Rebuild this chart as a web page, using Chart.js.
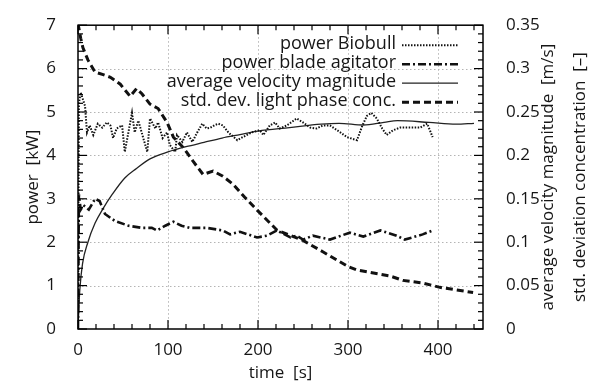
<!DOCTYPE html>
<html><head><meta charset="utf-8">
<script src="https://cdn.jsdelivr.net/npm/chart.js@4.4.1/dist/chart.umd.min.js"></script>
<style>html,body{margin:0;padding:0;background:#fff;}canvas{display:block;}</style>
</head><body>
<canvas id="c" width="589" height="388"></canvas>
<script>
// ---- tick values ----
const xTickValues = [0, 100, 200, 300, 400];
const yLeftTickValues = [0, 1, 2, 3, 4, 5, 6, 7];
const yRightTickValues = [0, 0.05, 0.1, 0.15, 0.2, 0.25, 0.3, 0.35];

// ---- labels ----
const seriesLabels = ["power Biobull", "power blade agitator", "average velocity magnitude", "std. dev. light phase conc."];
const xTitle = "time  [s]";
const yLeftTitle = "power  [kW]";
const yRightTitles = ["average velocity magnitude  [m/s]", "std. deviation concentration  [\u2013]"];

// ---- series: power Biobull [kW] ----
const biobullTime = [0,1,3,4.4,7.8,10,13,17,22,27,32,36,39,43,49,52,56,60,63,67,71,77,80,86,89,94,99,102,108,110,116,121,127,132,138,143,147,152,156,161,167,177,183,193,202,206,213,219,224,232,243,250,258,265,272,280,288,299,310,316,321,326,332,338,343,350,358,369,380,388,391,394];
const biobullPower = [0,5.2,5.45,5.36,5.14,4.53,4.69,4.47,4.73,4.64,4.76,4.69,4.40,4.62,4.69,4.08,4.53,4.98,4.53,4.80,4.51,4.08,4.85,4.62,4.76,4.40,4.53,4.24,4.08,4.47,4.31,4.53,4.31,4.51,4.73,4.62,4.64,4.70,4.73,4.69,4.53,4.35,4.42,4.53,4.58,4.47,4.69,4.76,4.62,4.69,4.85,4.76,4.64,4.62,4.69,4.69,4.58,4.42,4.35,4.69,4.91,4.98,4.85,4.62,4.47,4.58,4.64,4.64,4.64,4.73,4.58,4.42];

// ---- series: power blade agitator [kW] ----
const agitatorTime = [0,1,3,6,12,19,24,30,41,56,71,82,88,97,106,115,124,143,161,169,180,199,210,221,236,243,250,261,280,302,317,336,354,363,383,394];
const agitatorPower = [0,3.1,2.75,2.85,2.75,3.0,2.95,2.65,2.49,2.38,2.33,2.33,2.27,2.38,2.47,2.38,2.33,2.33,2.27,2.18,2.24,2.11,2.15,2.27,2.11,2.15,2.06,2.15,2.06,2.22,2.13,2.27,2.15,2.06,2.18,2.27];

// ---- series: average velocity magnitude [m/s] ----
const velocityTime = [0,1,2,5,11,19,28,38,52,65,80,100,120,140,160,180,200,235,270,290,317,340,355,390,420,440];
const velocity = [0,0.025,0.045,0.075,0.1,0.122,0.139,0.155,0.174,0.185,0.196,0.204,0.21,0.215,0.22,0.224,0.228,0.232,0.236,0.237,0.235,0.238,0.24,0.238,0.236,0.237];

// ---- series: std. dev. light phase concentration [-] ----
const stdTime = [0,3,5.5,11,19,28,36,47,58,65,71,80,89,99,106,117,128,139,150,161,172,185,199,221,250,272,300,310,347,361,383,402,421,439];
const stdDev = [0.352,0.335,0.324,0.31,0.296,0.293,0.29,0.282,0.268,0.277,0.271,0.259,0.254,0.238,0.221,0.209,0.193,0.178,0.182,0.176,0.167,0.152,0.137,0.114,0.102,0.089,0.072,0.068,0.061,0.056,0.053,0.048,0.045,0.042];

const FONT = "'Open Sans', sans-serif";
const TEXT = '#161616';
Chart.defaults.font.family = FONT;
Chart.defaults.font.size = 17;
Chart.defaults.color = TEXT;

const pts = (t, v) => t.map((x, i) => ({x: x, y: v[i]}));

const decorPlugin = {
  id: 'decor',
  beforeDatasetsDraw(chart) {
    const {ctx, chartArea: a, scales} = chart;
    ctx.save();
    ctx.strokeStyle = '#b4b4b4';
    ctx.lineWidth = 1;
    ctx.setLineDash([1.5, 2.5]);
    xTickValues.forEach(v => {
      const p = Math.round(scales.x.getPixelForValue(v)) + 0.5;
      if (p <= a.left + 1 || p >= a.right - 1) return;
      ctx.beginPath(); ctx.moveTo(p, a.top); ctx.lineTo(p, a.bottom); ctx.stroke();
    });
    yLeftTickValues.forEach(v => {
      const p = Math.round(scales.y.getPixelForValue(v)) + 0.5;
      if (p <= a.top + 1 || p >= a.bottom - 1) return;
      ctx.beginPath(); ctx.moveTo(a.left, p); ctx.lineTo(a.right, p); ctx.stroke();
    });
    ctx.restore();
  },
  afterDatasetsDraw(chart) {
    const {ctx, chartArea: a, scales} = chart;
    ctx.save();
    // frame
    ctx.strokeStyle = '#000';
    ctx.lineWidth = 1.5;
    ctx.setLineDash([]);
    ctx.strokeRect(a.left, a.top, a.right - a.left, a.bottom - a.top);
    // inward ticks
    ctx.lineWidth = 1.2;
    const MAJ = 9, MIN = 5;
    const tickX = (v, len) => {
      const p = scales.x.getPixelForValue(v);
      ctx.beginPath();
      ctx.moveTo(p, a.bottom); ctx.lineTo(p, a.bottom - len);
      ctx.moveTo(p, a.top); ctx.lineTo(p, a.top + len);
      ctx.stroke();
    };
    for (let i = 0; i <= 22; i++) tickX(i * 20, i % 5 === 0 ? MAJ : MIN);
    for (let i = 0; i <= 35; i++) {
      const p = scales.y.getPixelForValue(i * 0.2);
      ctx.beginPath(); ctx.moveTo(a.left, p); ctx.lineTo(a.left + (i % 5 === 0 ? MAJ : MIN), p); ctx.stroke();
      const q = scales.y1.getPixelForValue(i * 0.01);
      ctx.beginPath(); ctx.moveTo(a.right, q); ctx.lineTo(a.right - (i % 5 === 0 ? MAJ : MIN), q); ctx.stroke();
    }
    // legend (text right-aligned, sample on the right)
    ctx.font = "18px " + FONT;
    ctx.textAlign = 'right';
    ctx.textBaseline = 'middle';
    chart.data.datasets.forEach((ds, i) => {
      const yy = a.top + 19 + i * 19;
      ctx.fillStyle = TEXT;
      ctx.fillText(ds.label, a.right - 87, yy);
      ctx.strokeStyle = ds.borderColor;
      ctx.lineWidth = ds.borderWidth;
      ctx.setLineDash(ds.borderDash || []);
      ctx.beginPath(); ctx.moveTo(a.right - 81, yy + 1); ctx.lineTo(a.right - 25, yy + 1); ctx.stroke();
    });
    ctx.setLineDash([]);
    // right axis titles (reading bottom-to-top)
    ctx.font = "17px " + FONT;
    ctx.fillStyle = TEXT;
    ctx.textAlign = 'center';
    const cy = (a.top + a.bottom) / 2;
    [548, 580].forEach((xx, i) => {
      ctx.save(); ctx.translate(xx, cy); ctx.rotate(-Math.PI / 2);
      ctx.fillText(yRightTitles[i], 0, 0); ctx.restore();
    });
    ctx.restore();
  }
};

new Chart(document.getElementById('c'), {
  type: 'line',
  data: {
    datasets: [
      {label: seriesLabels[0], data: pts(biobullTime, biobullPower), yAxisID: 'y', borderColor: '#111', borderWidth: 2, borderDash: [1.5, 1.5], pointRadius: 0, tension: 0},
      {label: seriesLabels[1], data: pts(agitatorTime, agitatorPower), yAxisID: 'y', borderColor: '#111', borderWidth: 2.6, borderDash: [8, 3, 2, 3], pointRadius: 0, tension: 0},
      {label: seriesLabels[2], data: pts(velocityTime, velocity), yAxisID: 'y1', borderColor: '#222', borderWidth: 1.3, borderDash: [], pointRadius: 0, cubicInterpolationMode: 'monotone'},
      {label: seriesLabels[3], data: pts(stdTime, stdDev), yAxisID: 'y1', borderColor: '#111', borderWidth: 3, borderDash: [7, 4], pointRadius: 0, tension: 0}
    ]
  },
  options: {
    responsive: false,
    animation: false,
    devicePixelRatio: 1,
    layout: {padding: {top: 17, left: 0, right: 0, bottom: 0}},
    plugins: {legend: {display: false}, tooltip: {enabled: false}},
    scales: {
      x: {
        type: 'linear', position: 'bottom', min: 0, max: 450,
        afterBuildTicks: s => { s.ticks = xTickValues.map(v => ({value: v})); },
        afterFit: s => { s.height = 59; },
        grid: {display: false}, border: {display: false},
        ticks: {padding: 3, color: TEXT, font: {size: 17}},
        title: {display: true, text: xTitle, color: TEXT, font: {size: 17}, padding: {top: 0, bottom: 5}}
      },
      y: {
        type: 'linear', position: 'left', min: 0, max: 7,
        afterBuildTicks: s => { s.ticks = yLeftTickValues.map(v => ({value: v})); },
        afterFit: s => { s.width = 78; },
        grid: {display: false}, border: {display: false},
        ticks: {padding: 14, color: TEXT, font: {size: 17}},
        title: {display: true, text: yLeftTitle, color: TEXT, font: {size: 17}, padding: {top: 23, bottom: 0}}
      },
      y1: {
        type: 'linear', position: 'right', min: 0, max: 0.35,
        afterBuildTicks: s => { s.ticks = yRightTickValues.map(v => ({value: v})); },
        afterFit: s => { s.width = 106; },
        grid: {display: false}, border: {display: false},
        ticks: {padding: 15, color: TEXT, font: {size: 17}, callback: v => String(+Number(v).toFixed(2))}
      }
    }
  },
  plugins: [decorPlugin]
});
</script>
</body></html>
